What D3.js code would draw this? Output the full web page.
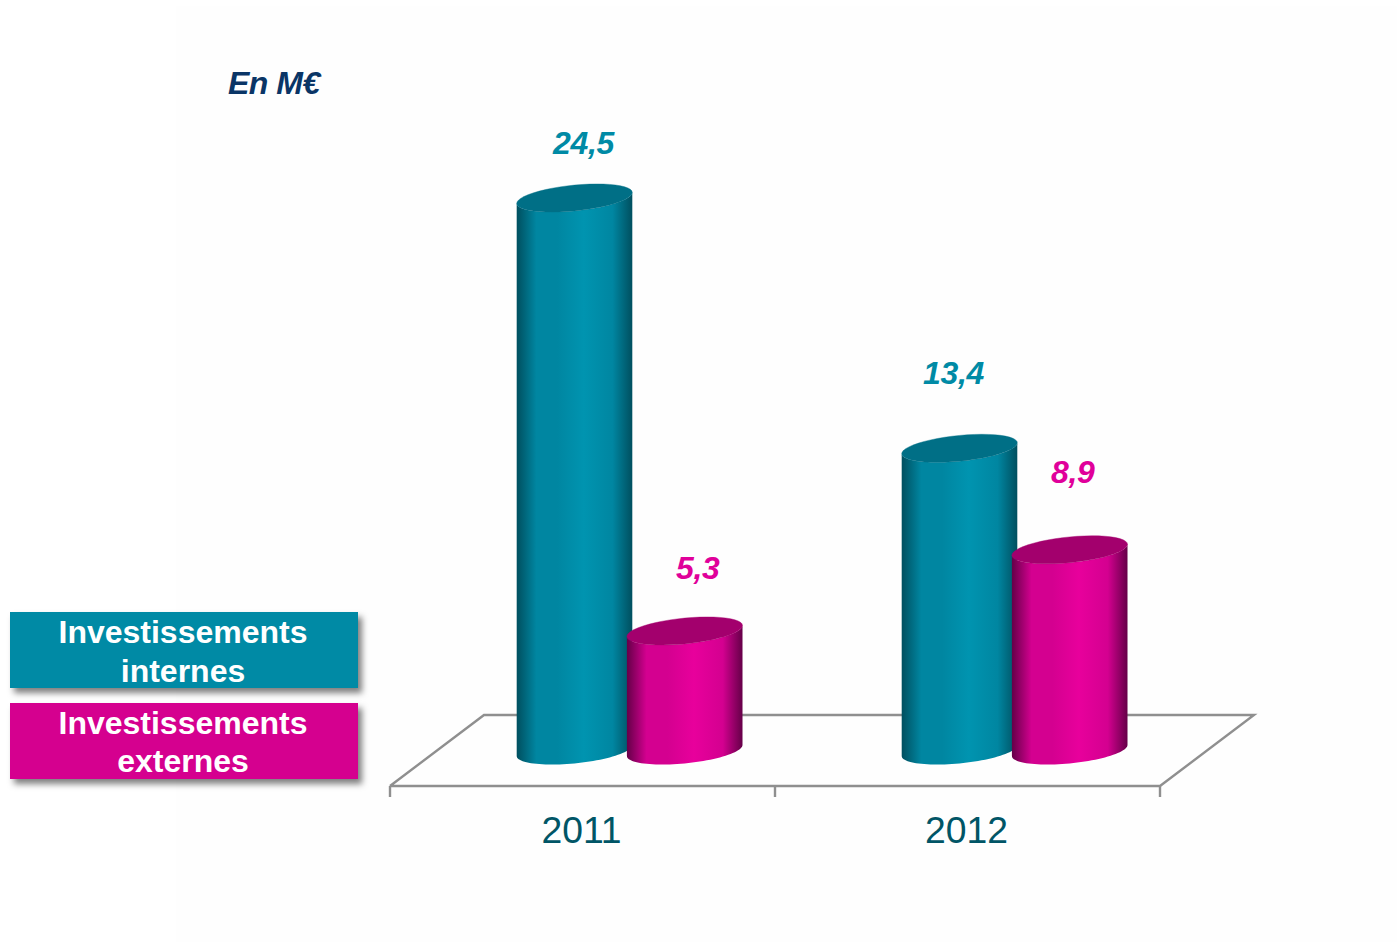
<!DOCTYPE html>
<html><head><meta charset="utf-8">
<script src="https://cdnjs.cloudflare.com/ajax/libs/d3/7.8.5/d3.min.js"></script>
<style>html,body{margin:0;padding:0;background:#fff;overflow:hidden}svg{display:block}text{font-family:"Liberation Sans",Arial,sans-serif}</style>
</head><body><svg id="c" width="1397" height="942"></svg>
<script>
const categories = ["2011", "2012"];
const seriesNames = ["Investissements internes", "Investissements externes"];
const internes = [24.5, 13.4];
const externes = [5.3, 8.9];
const valueLabels = [["24,5", "13,4"], ["5,3", "8,9"]];
const unitLabel = "En M€";

const svg = d3.select("#c");
const W = 1397, H = 942;
svg.append("rect").attr("width", W).attr("height", H).attr("fill", "#fff");
svg.append("rect").attr("x", 176).attr("y", 6).attr("width", W - 176).attr("height", H - 6).attr("fill", "#fefefe");

const x = d3.scaleBand().domain(categories).range([390, 1160]);
const y = d3.scaleLinear().domain([0, 24.5]).range([750.5, 198]);
const barW = 115.6, tilt = 5.5, ry = 12.9;
const offsets = [-8, 102.2];
const bands = [
  {name: "t", values: internes, light: "#0094b0", mid: "#0086a1", dark: "#004f5f", top: "#006f86", text: "#008aa5", legend: "#008aa5"},
  {name: "m", values: externes, light: "#e8009c", mid: "#d40090", dark: "#650048", top: "#a3006d", text: "#e0009a", legend: "#d5008f"}
];
const labelShift = [[[9, -44], [-6, -64]], [[13, -52], [3, -67]]];

const defs = svg.append("defs");
bands.forEach(b => {
  const g = defs.append("linearGradient").attr("id", "grad-" + b.name).attr("x1", 0).attr("x2", 1).attr("y1", 0).attr("y2", 0);
  [[0, b.dark], [0.17, b.mid], [0.35, b.mid], [0.58, b.light], [0.83, b.mid], [1, b.dark]].forEach(s =>
    g.append("stop").attr("offset", s[0]).attr("stop-color", s[1]));
});
const f = defs.append("filter").attr("id", "sh").attr("x", "-5%").attr("y", "-20%").attr("width", "115%").attr("height", "150%");
f.append("feDropShadow").attr("dx", 4).attr("dy", 5).attr("stdDeviation", 3).attr("flood-color", "#000").attr("flood-opacity", 0.5);

// floor
const floorX = [x.range()[0], x.range()[1]], floorFront = 786, floorBack = 715, floorDepth = 94;
const floor = svg.append("g").attr("stroke", "#8f8f8f").attr("stroke-width", 2.4).attr("fill", "none");
floor.append("path").attr("d", d3.line()([[floorX[0], floorFront], [floorX[0] + floorDepth, floorBack], [floorX[1] + floorDepth, floorBack], [floorX[1], floorFront], [floorX[0], floorFront]]));
floor.selectAll("line").data(x.domain().map(d => x(d)).concat([floorX[1]])).join("line")
  .attr("x1", d => d).attr("x2", d => d).attr("y1", floorFront).attr("y2", 797);

const pt = (cx, cy, t) => [cx + barW / 2 * Math.cos(t), cy + ry * Math.sin(t) - tilt * Math.cos(t)];
const line = d3.line();
const ang = d3.range(0, 49).map(i => i / 48);
const ellipse = (cx, cy) => line(ang.map(a => pt(cx, cy, a * 2 * Math.PI))) + "Z";
function body(cx, yTop, yBase) {
  const front = ang.map(a => pt(cx, yBase, a * Math.PI));
  const topBack = ang.map(a => pt(cx, yTop, Math.PI - a * Math.PI));
  return line(front.concat(topBack)) + "Z";
}

categories.forEach((c, i) => {
  const center = x(c) + x.bandwidth() / 2;
  bands.forEach((b, j) => {
    const cx = center + offsets[j];
    const yt = y(b.values[i]), yb = y(0);
    svg.append("path").attr("d", body(cx, yt, yb)).attr("fill", `url(#grad-${b.name})`);
    svg.append("path").attr("d", ellipse(cx, yt)).attr("fill", b.top).attr("stroke", b.top).attr("stroke-width", 0.4);
  });
});

// value labels
bands.forEach((b, j) => {
  categories.forEach((c, i) => {
    const cx = x(c) + x.bandwidth() / 2 + offsets[j];
    svg.append("text").attr("x", cx + labelShift[j][i][0]).attr("y", y(b.values[i]) + labelShift[j][i][1])
      .attr("text-anchor", "middle").attr("font-size", 32).attr("font-weight", 700).attr("font-style", "italic")
      .attr("letter-spacing", -0.3).attr("fill", b.text).text(valueLabels[j][i]);
  });
});

// category labels
categories.forEach(c => {
  svg.append("text").attr("x", x(c) + x.bandwidth() / 2 - 1).attr("y", 843).attr("text-anchor", "middle")
    .attr("font-size", 37.3).attr("fill", "#005566").text(c);
});

svg.append("text").attr("x", 228).attr("y", 94).attr("font-size", 32).attr("font-weight", 700).attr("font-style", "italic")
  .attr("letter-spacing", -0.5).attr("fill", "#0a3566").text(unitLabel);

// legend
const legendY = [612, 703];
bands.forEach((b, j) => {
  svg.append("rect").attr("x", 10).attr("y", legendY[j]).attr("width", 348).attr("height", 76)
    .attr("fill", b.legend).attr("filter", "url(#sh)");
  const parts = seriesNames[j].split(" ");
  parts.forEach((p, k) => svg.append("text").attr("x", 183).attr("y", legendY[j] + 31 + k * 39 - (j === 1 && k === 1 ? 1 : 0))
    .attr("text-anchor", "middle").attr("font-size", 32).attr("font-weight", 700).attr("fill", "#fff").text(p));
});
</script></body></html>
